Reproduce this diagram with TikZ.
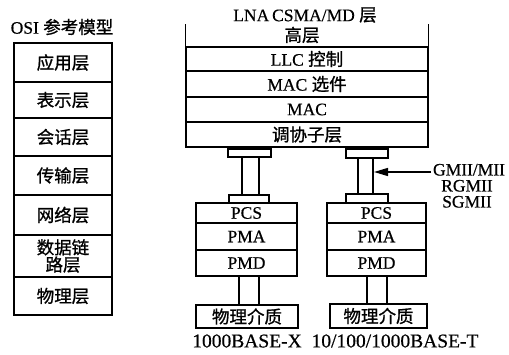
\documentclass[tikz,border=0pt]{standalone}
\usepackage{fontspec}
\setmainfont{Liberation Serif}[FakeBold=0.5]
\newfontfamily\cjk[FakeBold=1.0]{Noto Sans CJK SC}
\usetikzlibrary{arrows.meta}
\tikzset{
  lw/.style={line width=1.4pt},
  layer/.style={draw, lw, rectangle, inner sep=0pt, font=\fontsize{17.5}{18}\selectfont},
  tab/.style={draw, lw, rectangle, inner sep=0pt},
  lbl/.style={inner sep=0pt, font=\fontsize{17.5}{18}\selectfont},
  biglbl/.style={inner sep=0pt, font=\fontsize{19.5}{20}\selectfont},
  iflbl/.style={inner sep=0pt, font=\fontsize{17.5}{18}\selectfont, text height=12pt, text depth=0pt},
  wire/.style={lw},
}
\begin{document}
\begin{tikzpicture}[x=1pt,y=-1pt]
\useasboundingbox (0,0) rectangle (509,355);
% ---------- OSI column ----------
\node[lbl] (osi) at (62,27) {OSI {\cjk 参考模型}};
\node[layer, minimum width=98pt, minimum height=39pt] (o1) at (63,62.5) {\cjk 应用层};
\node[layer, minimum width=98pt, minimum height=36pt] (o2) at (63,100) {\cjk 表示层};
\node[layer, minimum width=98pt, minimum height=38pt] (o3) at (63,137) {\cjk 会话层};
\node[layer, minimum width=98pt, minimum height=39pt] (o4) at (63,175.5) {\cjk 传输层};
\node[layer, minimum width=98pt, minimum height=40pt] (o5) at (63,215) {\cjk 网络层};
\node[layer, minimum width=98pt, minimum height=42pt, align=center, font=\fontsize{17.5}{13.5}\selectfont] (o6) at (63,256) {\cjk 数据链\\\cjk 路层};
\node[layer, minimum width=98pt, minimum height=38pt] (o7) at (63,296) {\cjk 物理层};
% ---------- right stack ----------
\node[lbl] (top1) at (305,15) {LNA\,CSMA/MD {\cjk 层}};
\node[lbl] (top2) at (302,35) {\cjk 高层};
\node[layer, minimum width=242pt, minimum height=24pt] (llc) at (307,59) {LLC {\cjk 控制}};
\node[layer, minimum width=242pt, minimum height=26pt] (macopt) at (307,84) {MAC {\cjk 选件}};
\node[layer, minimum width=242pt, minimum height=25pt] (mac) at (307,109.5) {MAC};
\node[layer, minimum width=242pt, minimum height=25pt] (rs) at (307,134.5) {\cjk 调协子层};
\draw[wire] (llc.north west) -- ++(0,-22);
\draw[wire] (llc.north east) -- ++(0,-22);
% ---------- left branch ----------
\node[tab, minimum width=43pt, minimum height=8pt] (tL1) at (249.5,153) {};
\node[tab, minimum width=40pt, minimum height=8pt] (tL2) at (249,199) {};
\draw[wire] (tL1.south -| 242,0) -- (tL2.north -| 242,0);
\draw[wire] (tL1.south -| 259,0) -- (tL2.north -| 259,0);
\node[layer, minimum width=101pt, minimum height=20pt] (pcsL) at (246.5,213) {PCS};
\node[layer, minimum width=101pt, minimum height=27pt] (pmaL) at (246.5,236.5) {PMA};
\node[layer, minimum width=101pt, minimum height=26pt] (pmdL) at (246.5,263) {PMD};
\node[layer, minimum width=102pt, minimum height=23pt] (phyL) at (247,316.5) {\cjk 物理介质};
\draw[wire] (pmdL.south -| 239,0) -- (phyL.north -| 239,0);
\draw[wire] (pmdL.south -| 259,0) -- (phyL.north -| 259,0);
\node[biglbl] (baseX) at (247,341) {1000BASE-X};
% ---------- right branch ----------
\node[tab, minimum width=42pt, minimum height=9pt] (tR1) at (367,153.5) {};
\node[tab, minimum width=42pt, minimum height=9pt] (tR2) at (367,198.5) {};
\draw[wire] (tR1.south -| 358,0) -- (tR2.north -| 358,0);
\draw[wire] (tR1.south -| 373,0) -- (tR2.north -| 373,0);
\node[layer, minimum width=99pt, minimum height=20pt] (pcsR) at (376.5,213) {PCS};
\node[layer, minimum width=99pt, minimum height=27pt] (pmaR) at (376.5,236.5) {PMA};
\node[layer, minimum width=99pt, minimum height=26pt] (pmdR) at (376.5,263) {PMD};
\node[layer, minimum width=97pt, minimum height=24pt] (phyR) at (378.5,316) {\cjk 物理介质};
\draw[wire] (pmdR.south -| 367,0) -- (phyR.north -| 367,0);
\draw[wire] (pmdR.south -| 387,0) -- (phyR.north -| 387,0);
\node[biglbl] (baseT) at (395,341) {10/100/1000BASE-T};
% ---------- interface arrow ----------
\node[iflbl] (gmii) at (469,169.5) {GMII/MII};
\node[iflbl] (rgmii) at (467,185.5) {RGMII};
\node[iflbl] (sgmii) at (467,201.5) {SGMII};
\coordinate (arrS) at (431,172);
\draw[wire, -{Triangle[length=14pt,width=8pt]}] (arrS) -- (arrS -| 374,0);
\end{tikzpicture}
\end{document}
